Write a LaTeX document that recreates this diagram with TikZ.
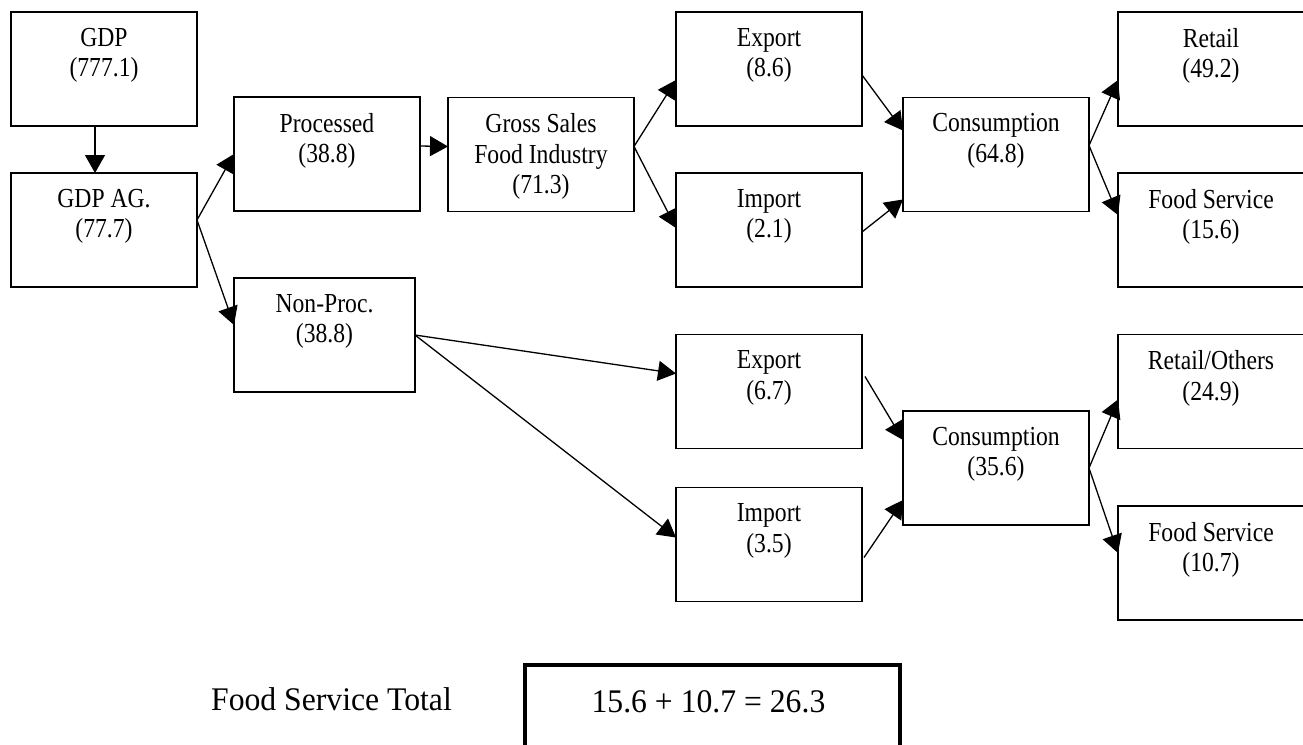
\documentclass[tikz,border=0pt]{standalone}
\usepackage{fontspec}
\setmainfont{Liberation Serif}
\newfontfamily\boxfont[FakeStretch=0.86]{Liberation Serif}
\newfontfamily\totfont[FakeStretch=0.96]{Liberation Serif}
\usetikzlibrary{arrows.meta}
\begin{document}
\begin{tikzpicture}[x=1pt,y=-1pt,
  box/.style={draw, line width=1.5pt, minimum width=186pt, minimum height=114pt, inner sep=0pt, outer sep=0pt},
  txt/.style={anchor=north, yshift=-16pt, inner sep=0pt, align=center, font=\boxfont\fontsize{27.5}{30.5}\selectfont},
  conn/.style={line width=1.3pt, -{Triangle[length=18pt,width=20pt]}},
  bigtxt/.style={anchor=base, inner sep=0pt, font=\totfont\fontsize{33}{36}\selectfont},
]
\useasboundingbox (0,0) rectangle (1303,744);
\clip (0,0) rectangle (1303,744);
\fill[white] (0,0) rectangle (1303,744);

% boxes
\node[box, label={[txt]north:{GDP\\(777.1)}}] (gdp) at (104,69) {};
\node[box, label={[txt]north:{GDP AG.\\(77.7)}}] (gdpag) at (104,230) {};
\node[box, label={[txt]north:{Processed\\(38.8)}}] (proc) at (327,154) {};
\node[box, minimum width=181pt, label={[txt]north:{Non-Proc.\\(38.8)}}] (nonproc) at (324.5,335) {};
\node[box, label={[txt]north:{Gross Sales\\Food Industry\\(71.3)}}] (gross) at (541,154.5) {};
\node[box, label={[txt]north:{Export\\(8.6)}}] (exp1) at (769,69) {};
\node[box, label={[txt]north:{Import\\(2.1)}}] (imp1) at (769,230) {};
\node[box, label={[txt]north:{Consumption\\(64.8)}}] (cons1) at (996,154.5) {};
\node[box, label={[txt]north:{Retail\\(49.2)}}] (retail1) at (1211,69) {};
\node[box, label={[txt]north:{Food Service\\(15.6)}}] (fs1) at (1211,230) {};
\node[box, label={[txt]north:{Export\\(6.7)}}] (exp2) at (769,391.5) {};
\node[box, label={[txt]north:{Import\\(3.5)}}] (imp2) at (769,544.5) {};
\node[box, label={[txt]north:{Consumption\\(35.6)}}] (cons2) at (996,468) {};
\node[box, label={[txt]north:{Retail/Others\\(24.9)}}] (retail2) at (1211,391.5) {};
\node[box, label={[txt]north:{Food Service\\(10.7)}}] (fs2) at (1211,563) {};

% connectors
\draw[conn] ([xshift=-9pt]gdp.south) -- ([xshift=-9pt]gdpag.north);
\draw[conn] ([yshift=10pt]gdpag.east) -- (proc.west);
\draw[conn] ([yshift=10pt]gdpag.east) -- ([yshift=10pt]nonproc.west);
\draw[conn] ([yshift=8pt]proc.east) -- ([yshift=8pt]gross.west);
\draw[conn] ([yshift=8pt]gross.east) -- ([yshift=-11pt]exp1.west);
\draw[conn] ([yshift=8pt]gross.east) -- ([yshift=2pt]imp1.west);
\draw[conn] ([yshift=-6pt]exp1.east) -- ([yshift=24pt]cons1.west);
\draw[conn] ([yshift=-2pt]imp1.east) -- ([yshift=-45pt]cons1.west);
\draw[conn] ([yshift=9pt]cons1.east) -- ([yshift=-11pt]retail1.west);
\draw[conn] ([yshift=9pt]cons1.east) -- ([yshift=15pt]fs1.west);
\draw[conn] (nonproc.east) -- ([yshift=18pt]exp2.west);
\draw[conn] (nonproc.east) -- ([yshift=7pt]imp2.west);
\draw[conn] ([xshift=3pt,yshift=15pt]exp2.east) -- ([yshift=28pt]cons2.west);
\draw[conn] ([xshift=2pt,yshift=-13pt]imp2.east) -- ([yshift=-32pt]cons2.west);
\draw[conn] (cons2.east) -- ([yshift=-8pt]retail2.west);
\draw[conn] (cons2.east) -- ([yshift=10pt]fs2.west);

% total
\node[bigtxt] (fstot) at (331.5,710) {Food Service Total};
\node[draw, line width=3.5pt, minimum width=375pt, minimum height=110pt, inner sep=0pt, outer sep=0pt] (eqbox) at (712.5,720) {};
\node[bigtxt] (eqtxt) at (708.5,712) {15.6 + 10.7 = 26.3};
\end{tikzpicture}
\end{document}
